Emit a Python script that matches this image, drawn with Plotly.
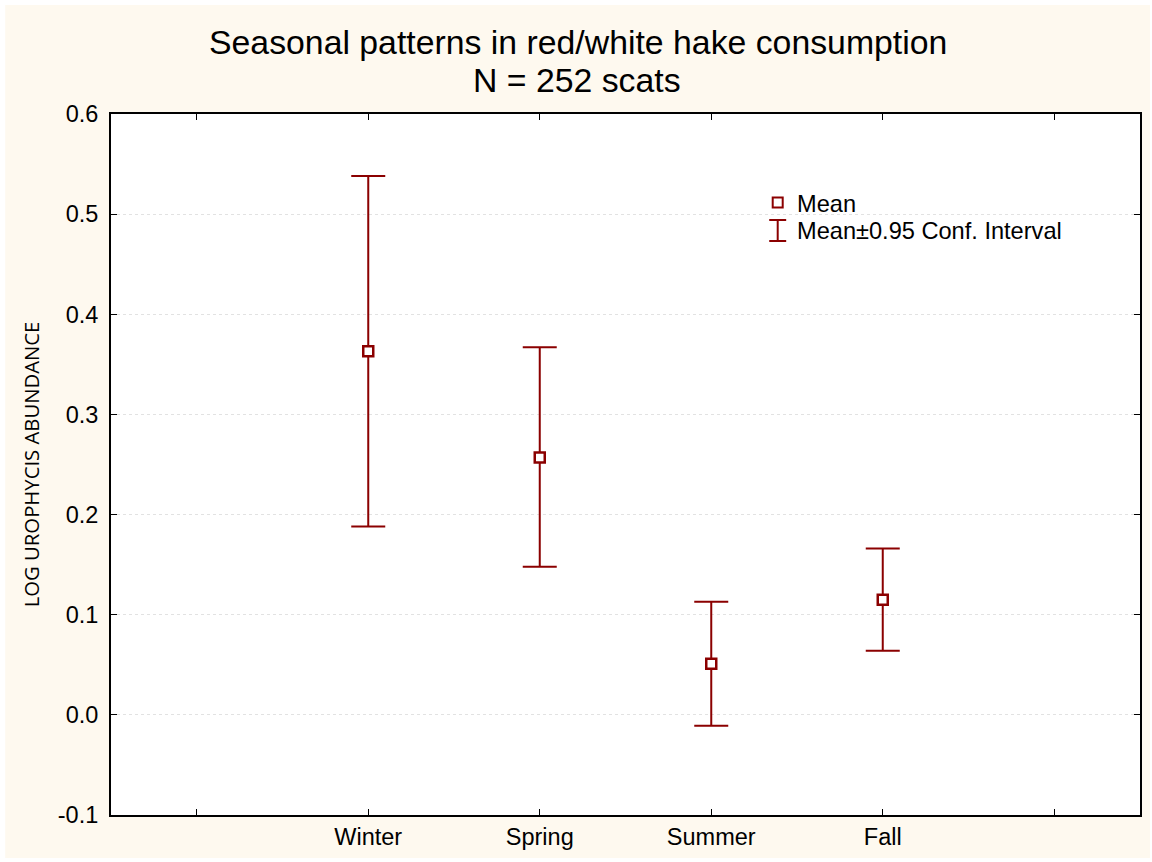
import plotly.graph_objects as go

seasons = ["Winter", "Spring", "Summer", "Fall"]
means = [0.363, 0.257, 0.051, 0.115]
ci_low = [0.188, 0.148, -0.011, 0.064]
ci_high = [0.538, 0.367, 0.113, 0.166]
y_ticks = [-0.1, 0.0, 0.1, 0.2, 0.3, 0.4, 0.5, 0.6]

RED = "#8B0000"
CREAM = "#FEF9EF"
W, H = 1152, 862
L, R, T, B = 111, 10, 114, 47
pw, ph = W - L - R, H - T - B

def px(x):
    return (x - L) / pw

def py(y):
    return 1 - (y - T) / ph

xpos = [i + 1 for i in range(len(seasons))]
err_plus = [h - m for h, m in zip(ci_high, means)]
err_minus = [m - l for m, l in zip(means, ci_low)]

fig = go.Figure()
fig.add_trace(go.Scatter(
    x=xpos, y=means, mode="markers",
    marker=dict(symbol="square", size=10, color="white", line=dict(color=RED, width=2.5)),
    error_y=dict(type="data", symmetric=False, array=err_plus, arrayminus=err_minus,
                 color=RED, thickness=2, width=17),
    showlegend=False, hoverinfo="skip",
))

shapes = [
    dict(type="rect", xref="paper", yref="paper", x0=px(5), x1=px(1152), y0=py(858), y1=py(5),
         fillcolor=CREAM, line=dict(width=0), layer="below"),
    dict(type="rect", xref="paper", yref="paper", x0=0, x1=1, y0=0, y1=1,
         fillcolor="white", line=dict(width=0), layer="below"),
    # legend glyphs
    dict(type="rect", xref="paper", yref="paper", xsizemode="pixel", ysizemode="pixel",
         xanchor=px(779), yanchor=py(202.5), x0=-5, x1=5, y0=-5, y1=5,
         fillcolor="white", line=dict(color=RED, width=2)),
    dict(type="line", xref="paper", yref="paper", x0=px(779), x1=px(779), y0=py(220), y1=py(241),
         line=dict(color=RED, width=2)),
    dict(type="line", xref="paper", yref="paper", x0=px(770.5), x1=px(787.5), y0=py(220), y1=py(220),
         line=dict(color=RED, width=2)),
    dict(type="line", xref="paper", yref="paper", x0=px(770.5), x1=px(787.5), y0=py(241), y1=py(241),
         line=dict(color=RED, width=2)),
]

annotations = [
    dict(text="Seasonal patterns in red/white hake consumption", xref="paper", yref="paper",
         x=px(579), y=py(42), xanchor="center", yanchor="middle", showarrow=False,
         font=dict(family="Liberation Sans, Arial", size=33.8, color="black")),
    dict(text="N = 252 scats", xref="paper", yref="paper",
         x=px(578), y=py(80), xanchor="center", yanchor="middle", showarrow=False,
         font=dict(family="Liberation Sans, Arial", size=33.8, color="black")),
    dict(text="Mean", xref="paper", yref="paper", x=px(796), y=py(204),
         xanchor="left", yanchor="middle", showarrow=False,
         font=dict(family="Liberation Sans, Arial", size=23.6, color="black")),
    dict(text="Mean±0.95 Conf. Interval", xref="paper", yref="paper", x=px(796), y=py(231),
         xanchor="left", yanchor="middle", showarrow=False,
         font=dict(family="Liberation Sans, Arial", size=23.6, color="black")),
]

fig.update_layout(
    width=W, height=H,
    margin=dict(l=L, r=R, t=T, b=B, pad=0),
    paper_bgcolor="white", plot_bgcolor="white",
    shapes=shapes, annotations=annotations,
    font=dict(family="Liberation Sans, Arial", size=23, color="black"),
)
fig.update_xaxes(
    range=[-0.5, 5.5], tickmode="array", tickvals=[0] + xpos + [len(seasons) + 1],
    ticktext=[""] + seasons + [""],
    ticks="inside", ticklen=6, tickcolor="black", tickwidth=1,
    showline=True, linecolor="black", linewidth=2, mirror="ticks",
    showgrid=False, zeroline=False,
    tickfont=dict(size=23.5),
)
fig.update_yaxes(
    range=[-0.1, 0.6], tickmode="array", tickvals=y_ticks,
    ticktext=[f"{v:.1f}" for v in y_ticks],
    ticks="inside", ticklen=6, tickcolor="black", tickwidth=1,
    showline=True, linecolor="black", linewidth=2, mirror="ticks",
    showgrid=True, gridcolor="#e2e2e2", griddash="dot", gridwidth=1, zeroline=False,
    tickfont=dict(size=23.5), ticklabelstandoff=6,
    title=dict(text="LOG UROPHYCIS ABUNDANCE", standoff=13,
               font=dict(family="Open Sans", size=20.3, color="black")),
)

fig.write_html("out.html")
